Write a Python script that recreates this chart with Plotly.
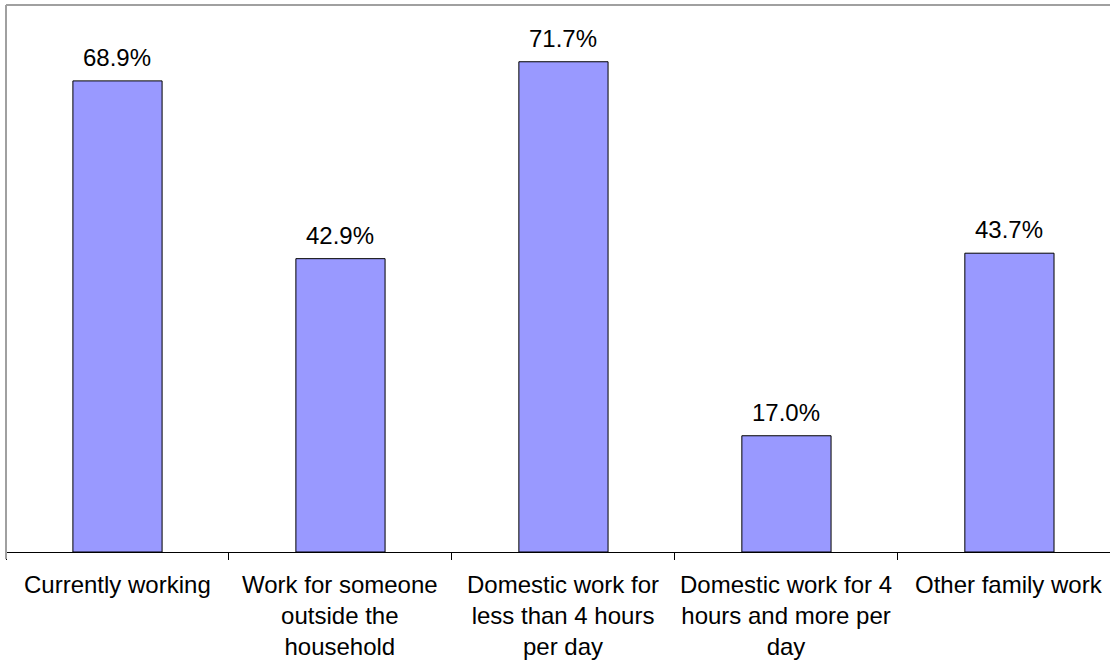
import plotly.graph_objects as go

categories = [
    "Currently working",
    "Work for someone<br>outside the<br>household",
    "Domestic work for<br>less than 4 hours<br>per day",
    "Domestic work for 4<br>hours and more per<br>day",
    "Other family work",
]
values = [68.9, 42.9, 71.7, 17.0, 43.7]
labels = ["68.9%", "42.9%", "71.7%", "17.0%", "43.7%"]

W, H = 1110, 660
ml, mt, mb, mr = 6, 5, 108, 0
plot_h = H - mt - mb
FONT = "Liberation Sans, Arial"

fig = go.Figure()
fig.add_trace(go.Bar(
    x=categories,
    y=values,
    width=0.40,
    marker=dict(color="#9999FF", line=dict(color="#000000", width=1)),
    hoverinfo="skip",
))

for c, v, t in zip(categories, values, labels):
    fig.add_annotation(x=c, y=v, text=t, showarrow=False, yanchor="bottom",
                       yshift=8, font=dict(family=FONT, size=24, color="#000000"))

# category labels below the axis
for c in categories:
    fig.add_annotation(x=c, xref="x", y=0, yref="paper", text=c, showarrow=False,
                       yanchor="top", yshift=-17, align="center",
                       font=dict(family=FONT, size=24, color="#000000"))

gray = "#A0A0A0"
fig.update_layout(
    width=W, height=H,
    margin=dict(l=ml, r=mr, t=mt, b=mb),
    paper_bgcolor="white", plot_bgcolor="white",
    showlegend=False,
    font=dict(family=FONT, size=24, color="#000000"),
    xaxis=dict(
        type="category",
        range=[-0.5, 4.451],
        tickson="boundaries",
        ticks="outside", ticklen=7, tickcolor="#000000", tickwidth=1,
        showline=True, linecolor="#000000", linewidth=1,
        showgrid=False, zeroline=False,
        showticklabels=False,
    ),
    yaxis=dict(
        range=[0, 80],
        showticklabels=False, ticks="",
        showgrid=False, zeroline=False,
        showline=False,
    ),
    shapes=[
        dict(type="line", xref="paper", yref="paper", x0=0, x1=1, y0=1, y1=1,
             line=dict(color=gray, width=2), layer="above"),
        dict(type="line", xref="paper", yref="paper", x0=0, x1=0, y0=1, y1=-7 / plot_h,
             line=dict(color=gray, width=2), layer="above"),
    ],
)

fig.write_html("out.html")
